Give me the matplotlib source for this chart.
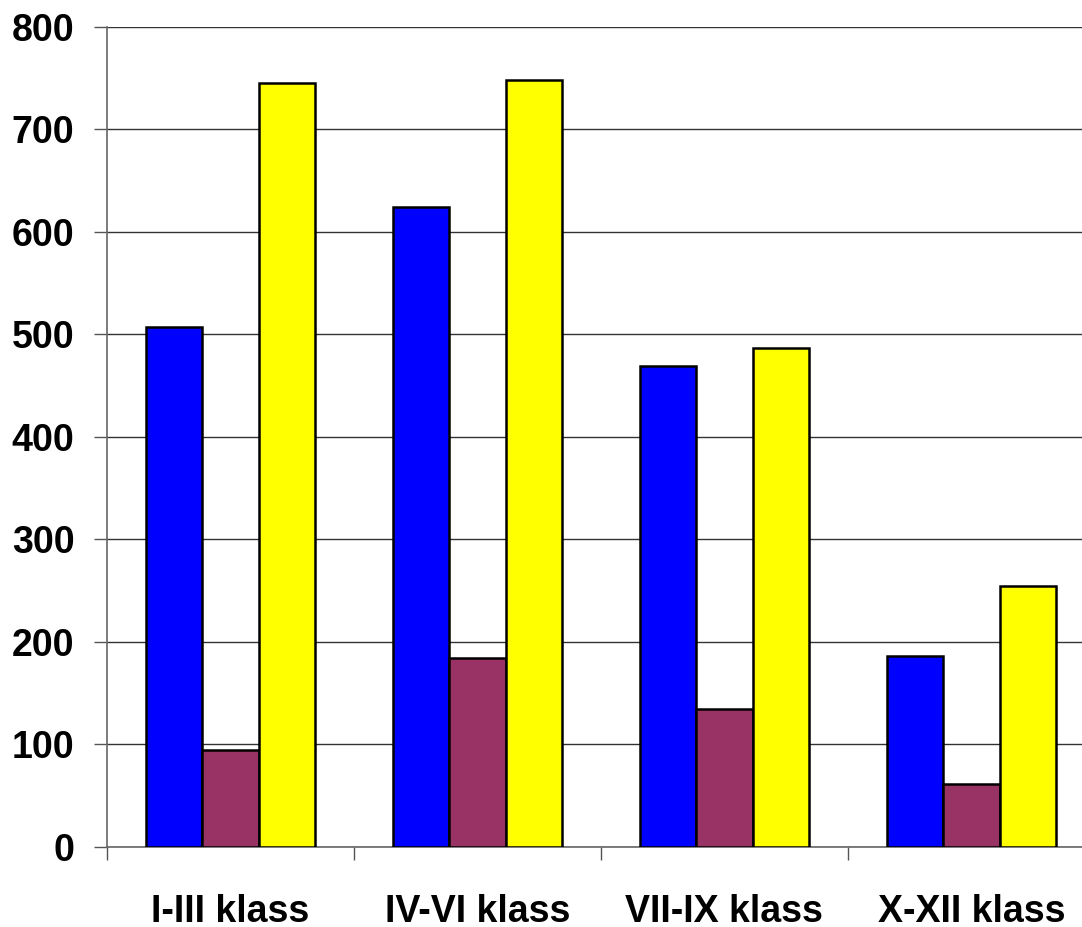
import numpy as np
import matplotlib.pyplot as plt

# Data
categories = ['I-III klass', 'IV-VI klass', 'VII-IX klass', 'X-XII klass']
series_blue = [507, 624, 469, 186]
series_purple = [95, 184, 135, 61]
series_yellow = [745, 748, 487, 254]
y_ticks = [0, 100, 200, 300, 400, 500, 600, 700, 800]

plt.rcParams['font.family'] = ['Liberation Sans', 'DejaVu Sans']

fig = plt.figure(figsize=(10.82, 9.27), dpi=100)
# plot area runs slightly past the right edge of the image, as in the original
ax = fig.add_axes([0.0989, 0.0863, 0.913, 0.8851])

x = np.arange(len(categories))
w = 0.228
ax.bar(x - w, series_blue, w, color='#0000FF', edgecolor='black', linewidth=1.8, zorder=3)
ax.bar(x, series_purple, w, color='#993366', edgecolor='black', linewidth=1.8, zorder=3)
ax.bar(x + w, series_yellow, w, color='#FFFF00', edgecolor='black', linewidth=1.8, zorder=3)

ax.set_xlim(-0.5, len(categories) - 0.5)
ax.set_ylim(0, 800)
ax.set_yticks(y_ticks)
ax.set_yticklabels([str(v) for v in y_ticks], fontsize=27, fontweight='bold')
ax.set_xticks(x)
ax.set_xticklabels(categories, fontsize=27, fontweight='bold')
ax.set_xticks(np.arange(len(categories)) - 0.5, minor=True)

ax.tick_params(axis='x', which='major', length=0, pad=34)
ax.tick_params(axis='x', which='minor', length=9.5, width=1, color='#555555', direction='out')
ax.tick_params(axis='y', length=9.5, width=1, color='#555555', pad=14)

ax.yaxis.grid(True, color='#333333', linewidth=1, zorder=0)
ax.set_axisbelow(True)

for side in ['top', 'right']:
    ax.spines[side].set_visible(False)
ax.spines['left'].set_color('#666666')
ax.spines['bottom'].set_color('#666666')
ax.spines['left'].set_linewidth(1.2)
ax.spines['bottom'].set_linewidth(1.2)

fig.savefig('out.png', dpi=100)
